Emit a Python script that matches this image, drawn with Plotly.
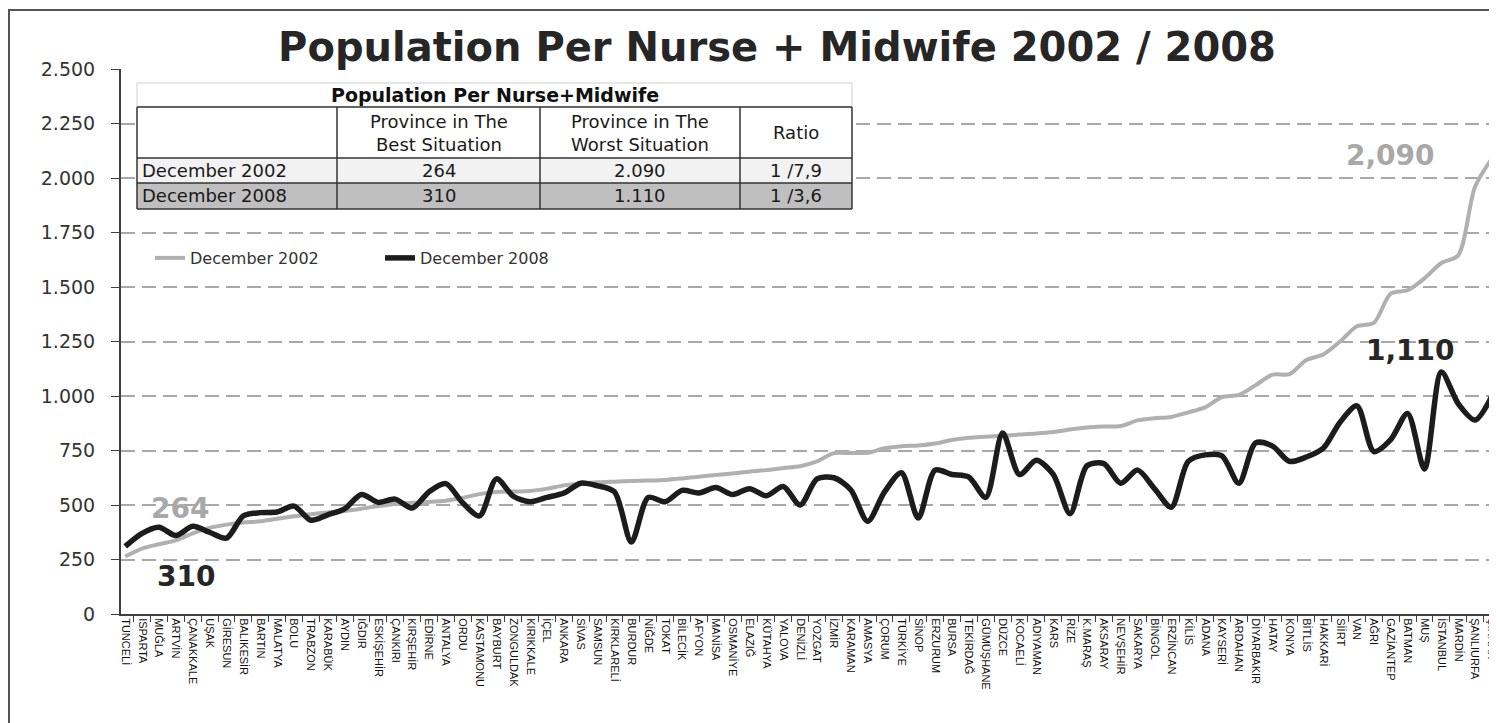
import plotly.graph_objects as go

# ---------------- data ----------------
provinces = ["TUNCELİ", "ISPARTA", "MUĞLA", "ARTVİN", "ÇANAKKALE", "UŞAK", "GİRESUN", "BALIKESİR",
             "BARTIN", "MALATYA", "BOLU", "TRABZON", "KARABÜK", "AYDIN", "IĞDIR", "ESKİŞEHİR",
             "ÇANKIRI", "KIRŞEHİR", "EDİRNE", "ANTALYA", "ORDU", "KASTAMONU", "BAYBURT", "ZONGULDAK",
             "KIRIKKALE", "İÇEL", "ANKARA", "SİVAS", "SAMSUN", "KIRKLARELİ", "BURDUR", "NİĞDE",
             "TOKAT", "BİLECİK", "AFYON", "MANİSA", "OSMANİYE", "ELAZIĞ", "KÜTAHYA", "YALOVA",
             "DENİZLİ", "YOZGAT", "İZMİR", "KARAMAN", "AMASYA", "ÇORUM", "TÜRKİYE", "SİNOP",
             "ERZURUM", "BURSA", "TEKİRDAĞ", "GÜMÜŞHANE", "DÜZCE", "KOCAELİ", "ADIYAMAN", "KARS",
             "RİZE", "K.MARAŞ", "AKSARAY", "NEVŞEHİR", "SAKARYA", "BİNGÖL", "ERZİNCAN", "KİLİS",
             "ADANA", "KAYSERİ", "ARDAHAN", "DİYARBAKIR", "HATAY", "KONYA", "BİTLİS", "HAKKARİ",
             "SİİRT", "VAN", "AĞRI", "GAZİANTEP", "BATMAN", "MUŞ", "İSTANBUL", "MARDİN",
             "ŞANLIURFA", "ŞIRNAK"]

dec_2002 = [264, 300, 320, 338, 370, 395, 410, 420, 425, 437, 448, 458, 466, 473, 483, 495,
            505, 510, 514, 520, 533, 550, 560, 562, 564, 575, 590, 598, 604, 607, 610, 612,
            615, 622, 630, 638, 645, 653, 660, 670, 678, 700, 738, 738, 740, 760, 770, 773,
            782, 798, 808, 813, 818, 823, 828, 835, 846, 856, 860, 862, 888, 898, 904, 925,
            948, 995, 1005, 1050, 1098, 1100, 1165, 1190, 1250, 1320, 1335, 1470, 1485, 1540,
            1610, 1645, 1960, 2090]

dec_2008 = [310, 370, 398, 360, 402, 375, 348, 450, 465, 468, 495, 430, 455, 482, 548, 512,
            527, 486, 560, 598, 510, 450, 620, 540, 515, 535, 555, 600, 588, 560, 330, 535,
            515, 567, 555, 580, 548, 575, 542, 585, 500, 620, 625, 570, 425, 560, 648, 440,
            660, 640, 628, 535, 830, 640, 705, 640, 460, 680, 690, 600, 660, 575, 490, 700,
            730, 725, 600, 785, 770, 700, 720, 760, 880, 955, 745, 800, 920, 665, 1110, 965,
            890, 1000]

series_names = ["December 2002", "December 2008"]
y_tick_values = [0, 250, 500, 750, 1000, 1250, 1500, 1750, 2000, 2250, 2500]
y_tick_labels = ["0", "250", "500", "750", "1.000", "1.250", "1.500", "1.750", "2.000", "2.250", "2.500"]

table_title = "Population Per Nurse+Midwife"
table_headers = ["", "Province in The<br>Best Situation", "Province in The<br>Worst Situation", "Ratio"]
table_row_2002 = ["December 2002", "264", "2.090", "1 /7,9"]
table_row_2008 = ["December 2008", "310", "1.110", "1 /3,6"]

chart_title = "Population Per Nurse + Midwife 2002 / 2008"

# ---------------- layout helpers (page pixel coordinates) ----------------
OFF = 8                       # browser body margin
W, H = 1497 - OFF, 723 - OFF  # figure size
PLOT_L, PLOT_R, PLOT_T, PLOT_B = 121, 1497, 69, 614   # plot area in page pixels
L = PLOT_L - OFF
T = PLOT_T - OFF
R = (OFF + W) - PLOT_R
B = (OFF + H) - PLOT_B
PW, PH = PLOT_R - PLOT_L, PLOT_B - PLOT_T


def px(x):
    return (x - PLOT_L) / PW


def py(y):
    return (PLOT_B - y) / PH


GRAY = "#b0b0b0"
BLACK = "#1c1c1c"

fig = go.Figure()
fig.add_trace(go.Scatter(x=provinces, y=dec_2002, mode="lines", name=series_names[0],
                         line=dict(color=GRAY, width=4, shape="spline", smoothing=0.8)))
fig.add_trace(go.Scatter(x=provinces, y=dec_2008, mode="lines", name=series_names[1],
                         line=dict(color=BLACK, width=5.5, shape="spline", smoothing=0.8)))

shapes = []
annotations = []

# outer frame
shapes.append(dict(type="rect", xref="paper", yref="paper", x0=px(9), x1=px(1520),
                   y0=py(760), y1=py(10), line=dict(color="#555555", width=2), layer="above"))

# ---------------- table ----------------
tx0, tx1 = 137, 852
col_edges = [137, 337, 540, 740, 852]
row_edges = [107, 158, 183, 209]
fills = ["#ffffff", "#f2f2f2", "#bfbfbf"]

shapes.append(dict(type="rect", xref="paper", yref="paper", x0=px(tx0), x1=px(tx1),
                   y0=py(107), y1=py(83), fillcolor="#ffffff",
                   line=dict(color="#d0d0d0", width=1), layer="above"))
for i, f in enumerate(fills):
    shapes.append(dict(type="rect", xref="paper", yref="paper", x0=px(tx0), x1=px(tx1),
                       y0=py(row_edges[i + 1]), y1=py(row_edges[i]), fillcolor=f,
                       line=dict(width=0), layer="above"))
for ye in row_edges:
    shapes.append(dict(type="line", xref="paper", yref="paper", x0=px(tx0), x1=px(tx1),
                       y0=py(ye), y1=py(ye), line=dict(color="#333333", width=1.5), layer="above"))
for xe in col_edges:
    shapes.append(dict(type="line", xref="paper", yref="paper", x0=px(xe), x1=px(xe),
                       y0=py(row_edges[-1]), y1=py(row_edges[0]),
                       line=dict(color="#333333", width=1.5), layer="above"))

annotations.append(dict(text="<b>" + table_title + "</b>", xref="paper", yref="paper",
                        x=px((tx0 + tx1) / 2), y=py(95), showarrow=False,
                        font=dict(family="DejaVu Sans", size=19, color="#111111"),
                        xanchor="center", yanchor="middle"))

table_font = dict(family="DejaVu Sans", size=18, color="#1a1a1a")
for ci, txt in enumerate(table_headers):
    if not txt:
        continue
    annotations.append(dict(text=txt, xref="paper", yref="paper",
                            x=px((col_edges[ci] + col_edges[ci + 1]) / 2),
                            y=py((row_edges[0] + row_edges[1]) / 2), showarrow=False,
                            font=table_font, xanchor="center", yanchor="middle"))
for ri, row in enumerate([table_row_2002, table_row_2008]):
    yc = py((row_edges[ri + 1] + row_edges[ri + 2]) / 2)
    for ci, txt in enumerate(row):
        if ci == 0:
            annotations.append(dict(text=txt, xref="paper", yref="paper", x=px(col_edges[0] + 3),
                                    y=yc, showarrow=False, font=table_font,
                                    xanchor="left", yanchor="middle"))
        else:
            annotations.append(dict(text=txt, xref="paper", yref="paper",
                                    x=px((col_edges[ci] + col_edges[ci + 1]) / 2),
                                    y=yc, showarrow=False, font=table_font,
                                    xanchor="center", yanchor="middle"))

# ---------------- value labels ----------------
best_2002, worst_2002 = min(dec_2002), max(dec_2002)
best_2008, worst_2008 = min(dec_2008), max(dec_2008)
lab_font = "DejaVu Sans"
annotations += [
    dict(text=f"<b>{best_2002:,}</b>", x=3.25, y=486, xref="x", yref="y", showarrow=False,
         font=dict(family=lab_font, size=28, color="#a8a8a8")),
    dict(text=f"<b>{best_2008:,}</b>", x=3.6, y=170, xref="x", yref="y", showarrow=False,
         font=dict(family=lab_font, size=28, color="#262626")),
    dict(text=f"<b>{worst_2002:,}</b>", x=75.0, y=2105, xref="x", yref="y", showarrow=False,
         font=dict(family=lab_font, size=28, color="#a8a8a8")),
    dict(text=f"<b>{worst_2008:,}</b>", x=76.2, y=1211, xref="x", yref="y", showarrow=False,
         font=dict(family=lab_font, size=28, color="#262626")),
]

fig.update_layout(
    width=W, height=H,
    margin=dict(l=L, r=R, t=T, b=B, pad=0),
    paper_bgcolor="#ffffff", plot_bgcolor="#ffffff",
    title=dict(text="<b>" + chart_title + "</b>", x=(777 - OFF) / W, xanchor="center",
               y=1 - (47 - OFF) / H, yanchor="middle",
               font=dict(family="DejaVu Sans", size=40, color="#262626")),
    showlegend=True,
    legend=dict(orientation="h", x=px(150), y=py(258), xanchor="left", yanchor="middle",
                bgcolor="rgba(0,0,0,0)", font=dict(family="DejaVu Sans", size=16, color="#333333"),
                entrywidth=185, itemwidth=30, tracegroupgap=0),
    shapes=shapes,
    annotations=annotations,
    xaxis=dict(type="category", range=[-0.25, 81.3], showgrid=False, showline=True,
               linecolor="#404040", linewidth=2, ticks="outside", tickson="boundaries",
               ticklen=6, tickcolor="#404040", tickangle=90,
               tickfont=dict(family="Liberation Sans", size=11, color="#111111"),
               zeroline=False),
    yaxis=dict(range=[0, 2500], tickvals=y_tick_values, ticktext=y_tick_labels,
               showgrid=True, gridcolor="#a8a8a8", gridwidth=2, griddash="14px,7px",
               showline=True, linecolor="#404040", linewidth=2, ticks="outside",
               ticklen=8, tickcolor="#404040", zeroline=False, ticklabelstandoff=12,
               tickfont=dict(family="DejaVu Sans", size=19, color="#333333")),
)

fig.write_html("out.html")
